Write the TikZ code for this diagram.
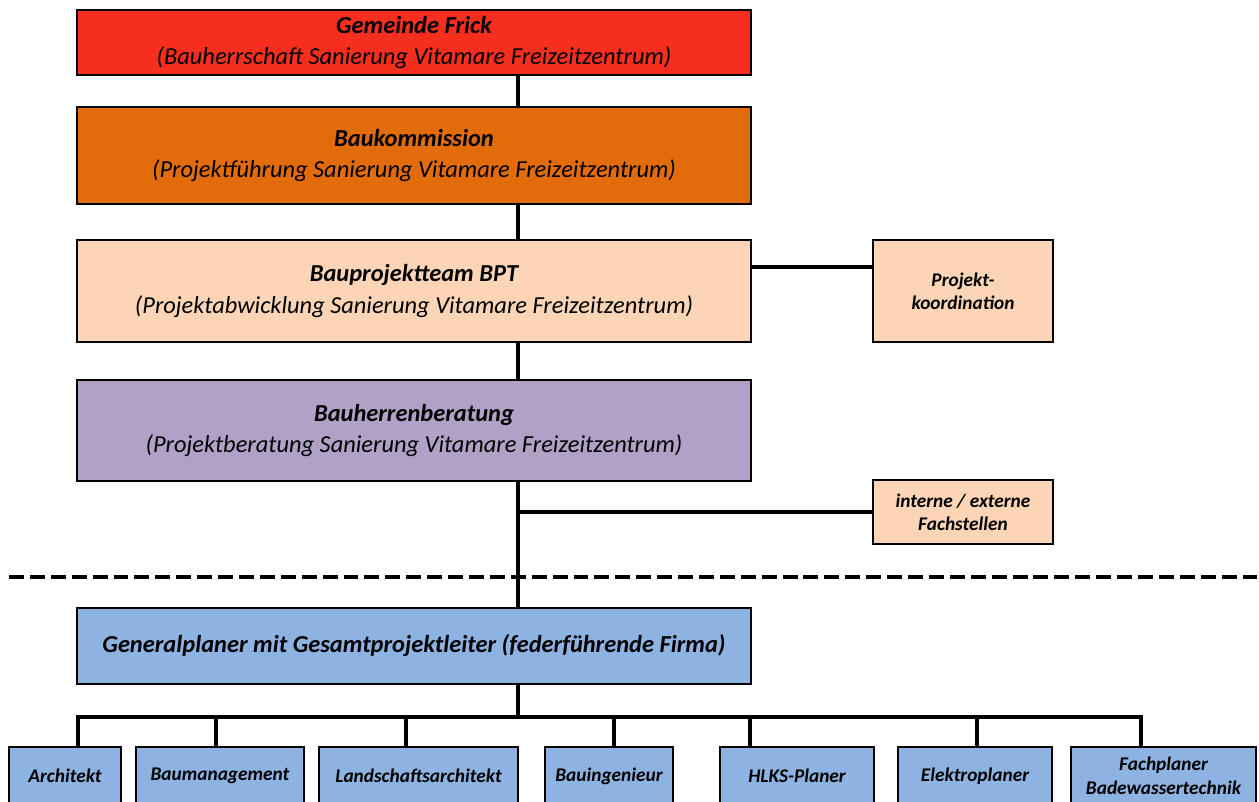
\documentclass[tikz,border=0pt]{standalone}
\usepackage{fontspec}
\setmainfont{Carlito}
\usepackage{tikz}

\definecolor{gemeinderot}{RGB}{245,46,30}
\definecolor{kommorange}{RGB}{227,108,10}
\definecolor{teampfirsich}{RGB}{251,213,181}
\definecolor{beratunglila}{RGB}{178,161,199}
\definecolor{planerblau}{RGB}{141,179,226}

\tikzset{
    orgbox/.style={draw, line width=1.1pt, align=center, inner sep=0pt,
        minimum width=13.48cm, font=\fontsize{13.9}{18}\selectfont\itshape},
    sidebox/.style={draw, line width=1.1pt, fill=teampfirsich, align=center,
        inner sep=0pt, minimum width=3.6cm,
        font=\fontsize{11}{13}\selectfont\bfseries\itshape},
    subbox/.style={draw, line width=1.1pt, fill=planerblau, align=center,
        inner sep=0pt, minimum height=1.16cm,
        font=\fontsize{11}{13.5}\selectfont\bfseries\itshape},
    link/.style={line width=2.1pt}
}

\begin{document}
\begin{tikzpicture}[x=0.02cm, y=-0.02cm]
    \useasboundingbox (0,0) rectangle (1259,802);

    % Main hierarchy
    \node[orgbox, fill=gemeinderot, minimum height=1.3cm] (gemeinde) at (414,42.5)
        {{\bfseries Gemeinde Frick}\\(Bauherrschaft Sanierung Vitamare Freizeitzentrum)};
    \node[orgbox, fill=kommorange, minimum height=1.94cm] (baukom) at (414,155.5)
        {{\bfseries Baukommission}\\(Projektführung Sanierung Vitamare Freizeitzentrum)};
    \node[orgbox, fill=teampfirsich, minimum height=2.04cm] (bpt) at (414,291)
        {{\bfseries Bauprojektteam BPT}\\(Projektabwicklung Sanierung Vitamare Freizeitzentrum)};
    \node[orgbox, fill=beratunglila, minimum height=2.02cm] (beratung) at (414,430.5)
        {{\bfseries Bauherrenberatung}\\(Projektberatung Sanierung Vitamare Freizeitzentrum)};
    \node[orgbox, fill=planerblau, minimum height=1.52cm, font=\fontsize{13.9}{18}\selectfont\bfseries\itshape] (general) at (414,646)
        {Generalplaner mit Gesamtprojektleiter (federführende Firma)};

    % Side boxes
    \node[sidebox, minimum height=2.04cm] (koord) at (963,291) {Projekt-\\koordination};
    \node[sidebox, minimum height=1.28cm] (fachst) at (963,512) {interne / externe\\Fachstellen};

    % Vertical spine
    \coordinate (spine) at (518,0);
    \draw[link] (gemeinde.south -| spine) -- (baukom.north -| spine);
    \draw[link] (baukom.south -| spine) -- (bpt.north -| spine);
    \draw[link] (bpt.south -| spine) -- (beratung.north -| spine);
    \draw[link] (beratung.south -| spine) -- (general.north -| spine);

    % Side connectors
    \draw[link] ([yshift=0.48cm]bpt.east) -- ([yshift=0.48cm]koord.west);
    \draw[link] (fachst.west -| spine) -- (fachst.west);

    % Dashed separator
    \draw[line width=1.9pt, dash pattern=on 8.5pt off 3.4pt] (9,577) -- (1259,577);

    % Specialist planners
    \foreach \n/\cx/\w/\t/\txt in {arch/65/2.24/78/{Architekt},
            bauman/220/3.36/216/{Baumanagement},
            landsch/418.5/3.98/406/{Landschaftsarchitekt},
            bauing/609/2.56/614/{Bauingenieur},
            hlks/797/3.08/750/{HLKS-Planer},
            elektro/975/3.08/977/{Elektroplaner},
            fach/1163.5/3.7/1141/{Fachplaner\\Badewassertechnik}} {
        \node[subbox, minimum width=\w cm] (\n) at (\cx,776) {\txt};
        \coordinate (t\n) at (\t,717);
        \draw[link] (t\n) -- (t\n |- \n.north);
    }
    \draw[link] (general.south -| spine) -- (spine |- tarch);
    \draw[link, line cap=rect] (tarch) -- (tfach);
\end{tikzpicture}
\end{document}
